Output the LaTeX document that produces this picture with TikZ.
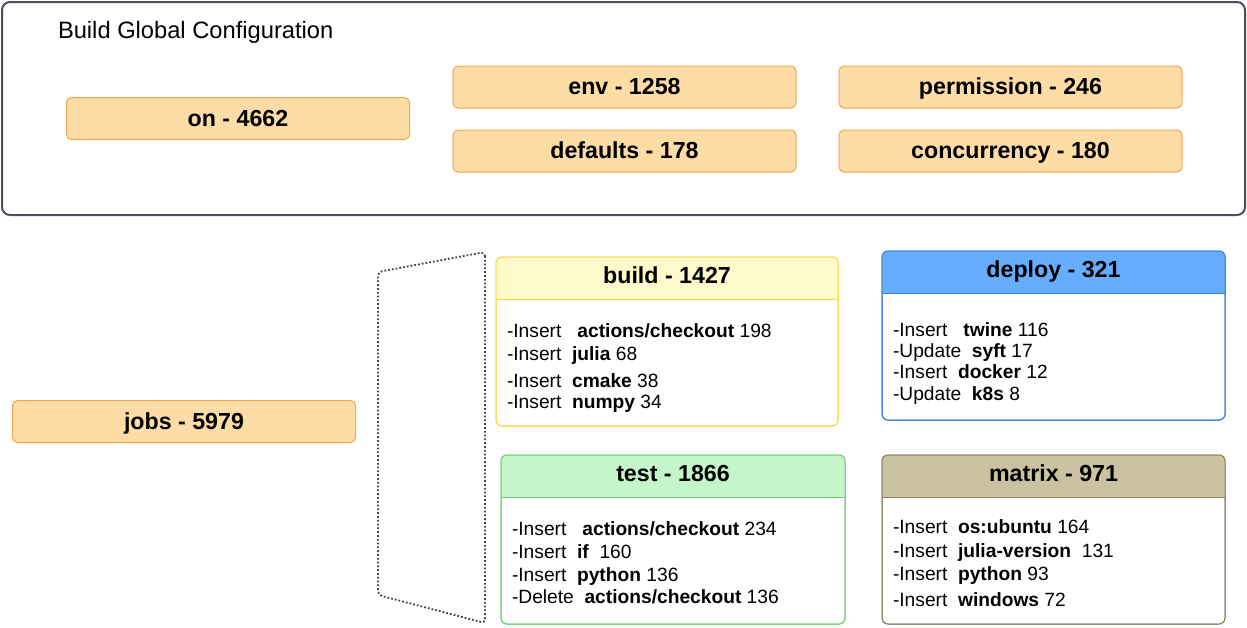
\documentclass[tikz,border=0pt]{standalone}
\usepackage{fontspec}
\setmainfont{Liberation Sans}
\definecolor{panelline}{HTML}{4B5058}
\definecolor{keyfill}{HTML}{FDDCA6}
\definecolor{keyline}{HTML}{F5A54A}
\definecolor{buildfill}{HTML}{FEFACB}
\definecolor{buildline}{HTML}{F9D84A}
\definecolor{deployfill}{HTML}{66ADFF}
\definecolor{deployline}{HTML}{3B7FE0}
\definecolor{testfill}{HTML}{C5F6C9}
\definecolor{testline}{HTML}{70CE73}
\definecolor{matrixfill}{HTML}{CBC2A2}
\definecolor{matrixline}{HTML}{8F8468}
\definecolor{dotgray}{HTML}{3F4650}
\newcommand\titlefont{\fontsize{23.2}{27}\selectfont\bfseries}
\newcommand\headfont{\fontsize{23.7}{27}\selectfont}
\newcommand\bodyfont{\fontsize{19.2}{22}\selectfont}
% a job card: name, centre x, centre y, width, line colour, header fill, title
\newcommand\jobcard[7]{%
  \node[cardbox, draw=#5, minimum width=#4] (#1) at (#2,#3) {};
  \begin{scope}
    \clip (#1.north west) rectangle ([yshift=-42pt]#1.north east);
    \fill[#6, rounded corners=6pt] (#1.north west) rectangle (#1.south east);
  \end{scope}
  \draw[#5, line width=1pt] ([yshift=-42pt]#1.north west) -- ([yshift=-42pt]#1.north east);
  \draw[#5, line width=1pt, rounded corners=6pt] (#1.north west) rectangle (#1.south east);
  \node[font=\titlefont, anchor=base] (#1-title) at ([yshift=-26pt]#1.north) {#7};
}
\begin{document}
\begin{tikzpicture}[x=1pt,y=-1pt,
  every node/.style={outer sep=0pt, inner sep=0pt},
  panel/.style={draw=panelline, line width=2pt, rounded corners=8pt, minimum width=1243pt, minimum height=213pt},
  keybox/.style={draw=keyline, fill=keyfill, line width=1pt, rounded corners=5pt,
    minimum width=343pt, minimum height=42pt, font=\titlefont, text height=17pt, text depth=2pt},
  cardbox/.style={fill=white, line width=1pt, rounded corners=6pt, minimum height=169pt},
  item/.style={anchor=base west, font=\bodyfont},
  bracket/.style={draw=dotgray, line width=1.8pt, dash pattern=on 1.8pt off 2pt, rounded corners=4pt}
]
\useasboundingbox (0,0) rectangle (1247,627);

% global configuration panel
\node[panel] (global) at (623.5,108.5) {};
\node[anchor=base west, font=\headfont] (gtitle) at (58,38.3) {Build Global Configuration};
\node[keybox] (on) at (238,118.5) {on - 4662};
\node[keybox] (env) at (624.5,87) {env - 1258};
\node[keybox] (defaults) at (624.5,151) {defaults - 178};
\node[keybox] (permission) at (1010.5,87) {permission - 246};
\node[keybox] (concurrency) at (1010.5,151) {concurrency - 180};

% jobs and its grouping bracket
\node[keybox] (jobs) at (184,421.5) {jobs - 5979};
\coordinate (bt) at (485,252);
\coordinate (bb) at (485,623);
\coordinate (lb) at (378,595);
\coordinate (lt) at (378,272);
\draw[bracket] (bt) -- (bb) -- (lb) -- (lt) -- cycle;

% job cards
\jobcard{build}{667}{341.5}{342pt}{buildline}{buildfill}{build - 1427}
\jobcard{deploy}{1053.5}{335.5}{343pt}{deployline}{deployfill}{deploy - 321}
\jobcard{test}{673}{539.5}{344pt}{testline}{testfill}{test - 1866}
\jobcard{matrix}{1053.5}{539.5}{343pt}{matrixline}{matrixfill}{matrix - 971}

\node[item] (build-1) at (507,337) {-Insert\ \ \ \textbf{actions/checkout} 198};
\node[item] (build-2) at (507,360) {-Insert\ \ \textbf{julia} 68};
\node[item] (build-3) at (507,387) {-Insert\ \ \textbf{cmake} 38};
\node[item] (build-4) at (507,408) {-Insert\ \ \textbf{numpy} 34};

\node[item] (deploy-1) at (893,336) {-Insert\ \ \ \textbf{twine} 116};
\node[item] (deploy-2) at (893,357.3) {-Update\ \ \textbf{syft} 17};
\node[item] (deploy-3) at (893,378.3) {-Insert\ \ \textbf{docker} 12};
\node[item] (deploy-4) at (893,400) {-Update\ \ \textbf{k8s} 8};

\node[item] (test-1) at (512,535) {-Insert\ \ \ \textbf{actions/checkout} 234};
\node[item] (test-2) at (512,558.3) {-Insert\ \ \textbf{if}\ \ 160};
\node[item] (test-3) at (512,581.7) {-Insert\ \ \textbf{python} 136};
\node[item] (test-4) at (512,603.3) {-Delete\ \ \textbf{actions/checkout} 136};

\node[item] (matrix-1) at (893,533.3) {-Insert\ \ \textbf{os:ubuntu} 164};
\node[item] (matrix-2) at (893,557.7) {-Insert\ \ \textbf{julia-version}\ \ 131};
\node[item] (matrix-3) at (893,580) {-Insert\ \ \textbf{python} 93};
\node[item] (matrix-4) at (893,606.7) {-Insert\ \ \textbf{windows} 72};
\end{tikzpicture}
\end{document}
